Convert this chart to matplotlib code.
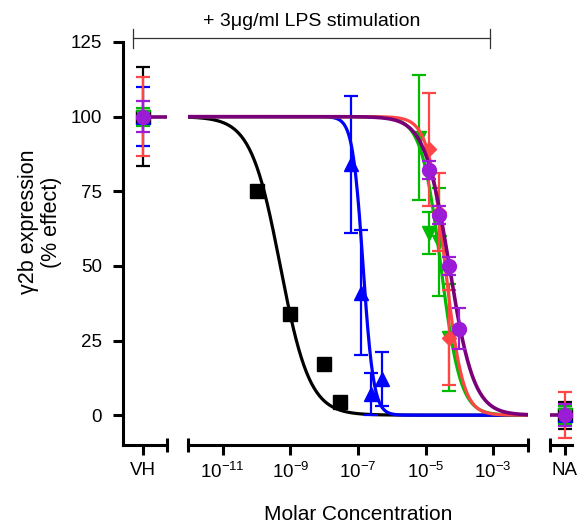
import matplotlib

matplotlib.use("Agg")
import matplotlib.pyplot as plt
import numpy as np
from matplotlib.lines import Line2D

plt.rcParams["font.family"] = ["Liberation Sans", "DejaVu Sans"]
plt.rcParams["mathtext.fontset"] = "custom"
plt.rcParams["mathtext.rm"] = "Liberation Sans"
plt.rcParams["mathtext.it"] = "Liberation Sans:italic"

# --- data ---
black_x = [1e-10, 1e-9, 1e-8, 3e-8]
black_y = [75, 34, 17, 4.5]

blue_x = [6.25e-8, 1.25e-7, 2.5e-7, 5e-7]
blue_y = [84, 41, 7, 12]
blue_err = [23, 21, 7, 9]

green_x = [6.25e-6, 1.25e-5, 2.5e-5, 5e-5]
green_y = [93, 61, 58, 26]
green_err = [21, 7, 18, 18]

red_x = [1.25e-5, 2.5e-5, 5e-5]
red_y = [89, 68, 26]
red_err = [19, 13, 16]

purple_x = [1.25e-5, 2.5e-5, 5e-5, 1e-4]
purple_y = [82, 67, 50, 29]
purple_err = [3, 3, 3, 7]

# fitted sigmoid parameters (logIC50, Hill slope)
fit_logic50 = [-9.3, -6.85, -4.55, -4.42, -4.3]
fit_hill = [1.0, 2.8, 1.5, 1.7, 1.2]

# controls: vehicle (VH) and NA, one value per series
vh_y = [100, 100, 100, 100, 100]
vh_err = [16.7, 10, 3, 13.3, 5.3]
na_y = [0, 0, 0, 0, 0]
na_err = [4.5, 3, 3, 7.7, 3.8]

colors = ["#000000", "#0000FF", "#00BB00", "#FF4545", "#9B1BD6"]
curve_colors = ["#000000", "#0000FF", "#00BB00", "#FF4545", "#7A007A"]
markers = ["s", "^", "v", "D", "o"]
msizes = [10, 10, 10, 7, 10]

series_x = [black_x, blue_x, green_x, red_x, purple_x]
series_y = [black_y, blue_y, green_y, red_y, purple_y]
series_err = [None, blue_err, green_err, red_err, purple_err]

W, H = 587, 529
fig = plt.figure(figsize=(W / 100, H / 100), dpi=100)

bot = (H - 445) / H
top = (H - 42) / H
ax_vh = fig.add_axes([123 / W, bot, 44 / W, top - bot])
ax = fig.add_axes([188 / W, bot, 340 / W, top - bot])
ax_na = fig.add_axes([550 / W, bot, 22 / W, top - bot])

LW = 2.2
for a in (ax_vh, ax, ax_na):
    a.set_ylim(-10, 125)
    a.patch.set_alpha(0)
    for s in ("top", "right", "left"):
        a.spines[s].set_visible(False)
    a.spines["bottom"].set_linewidth(LW)
    a.tick_params(axis="x", length=7, width=LW, labelsize=13.5, pad=5)

# y axis on VH panel
ax_vh.spines["left"].set_visible(True)
ax_vh.spines["left"].set_linewidth(LW)
ax_vh.set_yticks([0, 25, 50, 75, 100, 125])
ax_vh.tick_params(axis="y", length=7, width=LW, labelsize=13.5, pad=8)
for a in (ax, ax_na):
    a.set_yticks([])

# main log axis
ax.set_xscale("log")
ax.set_xlim(10 ** -12.03, 10 ** -1.97)
ticks = [1e-11, 1e-9, 1e-7, 1e-5, 1e-3]
ax.set_xticks(ticks)
ax.set_xticklabels([r"$10^{%d}$" % int(np.log10(t)) for t in ticks])
ax.minorticks_off()

xs = np.logspace(-12.03, -1.97, 400)
for i in range(5):
    yfit = 100 / (1 + 10 ** (fit_hill[i] * (np.log10(xs) - fit_logic50[i])))
    ax.plot(xs, yfit, color=curve_colors[i], lw=2.6 if i == 4 else 2.3, zorder=2 + i)
    if series_err[i] is not None:
        ax.errorbar(series_x[i], series_y[i], yerr=series_err[i], fmt="none",
                    ecolor=colors[i], elinewidth=1.6, capsize=5, capthick=1.6,
                    zorder=2 + i)
    ax.plot(series_x[i], series_y[i], linestyle="none", marker=markers[i],
            ms=msizes[i], color=colors[i], mec=colors[i], zorder=2.5 + i)

# VH and NA panels
vh_pos, na_pos = 0.45, 0.68
ax_vh.set_xlim(0, 1)
ax_vh.set_xticks([vh_pos])
ax_vh.set_xticklabels(["VH"])
ax_na.set_xlim(0, 1)
ax_na.set_xticks([na_pos])
ax_na.set_xticklabels(["NA"])

ax_vh.plot([vh_pos, 1], [vh_y[4], vh_y[4]], color=curve_colors[4], lw=2.6, zorder=1)
ax_na.plot([0, na_pos], [na_y[4], na_y[4]], color=curve_colors[4], lw=2.6, zorder=1)
for a, pos, yy, ee in ((ax_vh, vh_pos, vh_y, vh_err), (ax_na, na_pos, na_y, na_err)):
    for i in range(5):
        a.errorbar([pos], [yy[i]], yerr=[ee[i]], fmt="none", ecolor=colors[i],
                   elinewidth=1.6, capsize=5, capthick=1.6, zorder=2 + i, clip_on=False)
        a.plot([pos], [yy[i]], linestyle="none", marker=markers[i], ms=msizes[i],
               color=colors[i], mec=colors[i], zorder=2.5 + i, clip_on=False)

# end caps on the broken x axis
cap = 0.018
for a, ends in ((ax_vh, [1]), (ax, [0, 1]), (ax_na, [0])):
    for e in ends:
        a.plot([e, e], [-cap, cap], transform=a.transAxes, color="black",
               lw=LW, clip_on=False, solid_capstyle="butt")

# labels
fig.text(40 / W, (H - 222) / H, "\u03b32b expression\n(% effect)", rotation=90,
         ha="center", va="center", fontsize=15.5, linespacing=1.1)
fig.text(358 / W, (H - 515) / H, "Molar Concentration", ha="center", va="center",
         fontsize=15)

# LPS bracket
by = (H - 38) / H
fig.add_artist(Line2D([133 / W, 490 / W], [by, by], color="#333333", lw=0.9))
for bx in (133 / W, 490 / W):
    fig.add_artist(Line2D([bx, bx], [(H - 29) / H, (H - 48) / H], color="#333333", lw=0.9))
fig.text(312 / W, (H - 21) / H, "+ 3\u03bcg/ml LPS stimulation", ha="center",
         va="center", fontsize=14)

fig.savefig("out.png", dpi=100)
